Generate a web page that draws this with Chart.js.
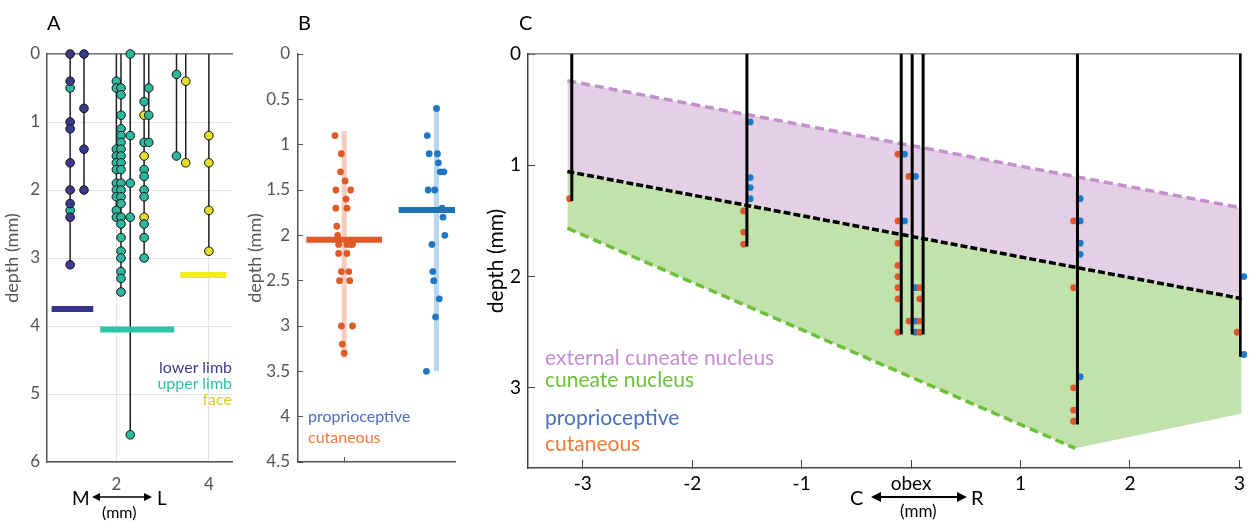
<!DOCTYPE html>
<html>
<head>
<meta charset="utf-8">
<script src="https://cdn.jsdelivr.net/npm/chart.js@4.4.0/dist/chart.umd.min.js"></script>
<style>
  body { margin: 0; width: 1257px; height: 521px; background: #fff; position: relative; overflow: hidden; font-family: Lato, sans-serif; }
  canvas { position: absolute; top: 0; }
  .t { position: absolute; white-space: nowrap; line-height: 1; }
  .r { text-align: right; }
  svg { position: absolute; }
</style>
</head>
<body>
<canvas id="chartA" width="240" height="521" style="left:0px"></canvas>
<canvas id="chartB" width="230" height="521" style="left:240px"></canvas>
<canvas id="chartC" width="779" height="521" style="left:478px"></canvas>

<div class="t" style="left:47px;top:12px;font-size:20px">A</div>
<div class="t" style="left:298px;top:12px;font-size:20px">B</div>
<div class="t" style="left:519px;top:12px;font-size:20px">C</div>

<div class="t r" style="right:1025px;top:359px;font-size:16px;color:#3b3b90">lower limb</div>
<div class="t r" style="right:1025px;top:375px;font-size:16px;color:#2dbfa6">upper limb</div>
<div class="t r" style="right:1025px;top:391px;font-size:16px;color:#d6d020">face</div>

<div class="t" style="left:72px;top:488px;font-size:19px">M</div>
<svg style="left:92px;top:491px" width="60" height="12"><path d="M4 6H56" stroke="#000" stroke-width="1.5"/><path d="M0 6L8 2V10Z M60 6L52 2V10Z" fill="#000"/></svg>
<div class="t" style="left:157px;top:488px;font-size:19px">L</div>
<div class="t" style="left:102px;top:504px;font-size:16px">(mm)</div>

<div class="t" style="left:308px;top:408px;font-size:16px;color:#4a6fbf">proprioceptive</div>
<div class="t" style="left:308px;top:429px;font-size:16px;color:#f07a3c">cutaneous</div>

<div class="t" style="left:545px;top:346px;font-size:21px;color:#c38fcc">external cuneate nucleus</div>
<div class="t" style="left:545px;top:368px;font-size:21px;color:#6cc03c">cuneate nucleus</div>
<div class="t" style="left:545px;top:406px;font-size:21px;color:#4a6fbf">proprioceptive</div>
<div class="t" style="left:545px;top:432px;font-size:21px;color:#f07a3c">cutaneous</div>

<div class="t" style="left:850px;top:487px;font-size:20px">C</div>
<svg style="left:871px;top:491px" width="96" height="12"><path d="M4 6H92" stroke="#000" stroke-width="2"/><path d="M0 6L10 1V11Z M96 6L86 1V11Z" fill="#000"/></svg>
<div class="t" style="left:971px;top:487px;font-size:20px">R</div>
<div class="t" style="left:900px;top:502px;font-size:17px">(mm)</div>

<script>
// ---- panel A : recording tracks, medial-lateral position vs depth ----
const trackX = [1.0, 1.3, 2.0, 2.1, 2.3, 2.6, 2.7, 3.3, 3.5, 4.0];
const trackEnd = [3.1, 2.0, 2.4, 3.5, 5.6, 3.0, 1.3, 1.5, 1.6, 2.9];
const lowerLimb = [[1.0, 0], [1.0, 0.4], [1.0, 1.0], [1.0, 1.1], [1.0, 1.6], [1.0, 2.0], [1.0, 2.2], [1.0, 2.4], [1.0, 3.1],
  [1.3, 0], [1.3, 0.8], [1.3, 1.4], [1.3, 2.0]];
const upperLimb = [[1.0, 0.5], [1.0, 2.3],
  [2.0, 0.4], [2.0, 0.5], [2.0, 1.4], [2.0, 1.5], [2.0, 1.6], [2.0, 1.7], [2.0, 1.9], [2.0, 2.0], [2.0, 2.1], [2.0, 2.3], [2.0, 2.4],
  [2.1, 0.5], [2.1, 0.6], [2.1, 0.9], [2.1, 1.1], [2.1, 1.2], [2.1, 1.3], [2.1, 1.4], [2.1, 1.5], [2.1, 1.6], [2.1, 1.7], [2.1, 1.9],
  [2.1, 2.0], [2.1, 2.1], [2.1, 2.2], [2.1, 2.4], [2.1, 2.5], [2.1, 2.7], [2.1, 2.9], [2.1, 3.0], [2.1, 3.2], [2.1, 3.3], [2.1, 3.5],
  [2.3, 0], [2.3, 1.2], [2.3, 1.9], [2.3, 2.4], [2.3, 5.6],
  [2.6, 0.7], [2.6, 1.3], [2.6, 1.7], [2.6, 1.8], [2.6, 2.0], [2.6, 2.1], [2.6, 2.5], [2.6, 2.7], [2.6, 3.0],
  [2.7, 0.5], [2.7, 0.9], [2.7, 1.3],
  [3.3, 0.3], [3.3, 1.5]];
const face = [[2.6, 0.9], [2.6, 1.5], [2.6, 2.4], [3.5, 0.4], [3.5, 1.6], [4.0, 1.2], [4.0, 1.6], [4.0, 2.3], [4.0, 2.9]];
const regionBarY = [3.75, 4.05, 3.25];
const regionBarFrom = [0.6, 1.65, 3.38];
const regionBarTo = [1.5, 3.25, 4.38];
const regionColors = ['#34348a', '#2ec4a8', '#f0ea28'];
const aXTicks = [2, 4];
const aYTicks = [0, 1, 2, 3, 4, 5, 6];

// ---- panel B : depth by modality ----
const cutaneousB = [[0.90, 0.9], [0.97, 1.1], [0.96, 1.3], [1.01, 1.4], [0.91, 1.5], [1.07, 1.5], [1.02, 1.6], [0.91, 1.7], [1.03, 1.7],
  [0.92, 1.9], [0.93, 2.0], [0.94, 2.1], [1.03, 2.1], [1.07, 2.1], [1.09, 2.1], [0.94, 2.2], [1.03, 2.2], [0.97, 2.4], [1.05, 2.4],
  [0.95, 2.5], [1.06, 2.5], [0.97, 3.0], [1.09, 3.0], [0.98, 3.2], [1.0, 3.3]];
const proprioB = [[2.0, 0.6], [1.9, 0.9], [1.92, 1.1], [2.01, 1.1], [2.02, 1.2], [2.04, 1.3], [2.08, 1.3], [1.91, 1.5], [1.98, 1.5],
  [2.06, 1.7], [2.07, 1.8], [2.09, 2.0], [1.95, 2.1], [1.96, 2.4], [1.97, 2.5], [2.03, 2.7], [1.99, 2.9], [1.89, 3.5]];
const cutRange = [0.85, 3.35];
const propRange = [0.6, 3.5];
const cutMean = 2.05;
const propMean = 1.72;
const bYTicks = [0, 0.5, 1, 1.5, 2, 2.5, 3, 3.5, 4, 4.5];

// ---- panel C : rostro-caudal position vs depth ----
const ecnTop = [[-3.14, 0.24], [3.03, 1.385]];
const cnTop = [[-3.14, 1.056], [3.03, 2.2]];
const cnBottom = [[-3.14, 1.565], [1.5, 3.543], [3.03, 3.23]];
const probeX = [-3.1, -1.5, -0.09, 0.01, 0.11, 1.52, 3.01];
const probeEnd = [1.32, 1.73, 2.52, 2.52, 2.52, 3.33, 2.72];
const cutaneousC = [[-3.12, 1.3], [-1.53, 1.41], [-1.53, 1.6], [-1.53, 1.71],
  [-0.12, 0.9], [-0.02, 1.1], [-0.12, 1.5], [-0.12, 1.7], [-0.12, 1.9], [-0.12, 2.0], [-0.12, 2.1], [0.08, 2.1],
  [-0.12, 2.2], [0.08, 2.2], [-0.02, 2.4], [0.08, 2.4], [-0.12, 2.5], [0.08, 2.5],
  [1.485, 1.5], [1.485, 2.1], [1.485, 3.0], [1.485, 3.2], [1.485, 3.3], [2.98, 2.5]];
const proprioC = [[-1.47, 0.61], [-1.47, 1.11], [-1.47, 1.2], [-1.47, 1.3],
  [-0.06, 0.9], [0.04, 1.1], [-0.06, 1.5], [0.04, 2.1], [0.04, 2.4], [0.04, 2.5],
  [1.545, 1.3], [1.545, 1.5], [1.545, 1.7], [1.545, 1.8], [1.545, 2.9], [3.04, 2.0], [3.04, 2.7]];
const cXTicks = [-3, -2, -1, 0, 1, 2, 3];
const cXLabels = ['-3', '-2', '-1', 'obex', '1', '2', '3'];
const cYTicks = [0, 1, 2, 3];

Chart.defaults.font.family = 'Lato, sans-serif';

//--HELPERS----------------------------------------------------------------
function toXY(points) {
  return points.map(p => ({ x: p[0], y: p[1] }));
}

function seg(points, color, width, order, dash) {
  return {
    data: toXY(points), showLine: true, borderColor: color, borderWidth: width,
    pointRadius: 0, borderDash: dash || [], order: order, fill: false, borderCapStyle: 'butt'
  };
}

function dots(points, color, radius, edge, order) {
  return {
    data: toXY(points), showLine: false, backgroundColor: color, pointRadius: radius,
    borderColor: edge || color, pointBorderWidth: edge ? 1 : 0, order: order, clip: false
  };
}

function fixTicks(list) {
  return s => { s.ticks = list.map(v => ({ value: v })); };
}

const plainNumber = v => String(v);
const noPlugins = { legend: { display: false }, tooltip: { enabled: false } };

//--PANEL A----------------------------------------------------------------
function drawA() {
  let datasets = [];
  for (let i = 0; i < trackX.length; i++) {
    datasets.push(seg([[trackX[i], 0], [trackX[i], trackEnd[i]]], '#222', 1.5, 5));
  }
  for (let i = 0; i < regionBarY.length; i++) {
    datasets.push(seg([[regionBarFrom[i], regionBarY[i]], [regionBarTo[i], regionBarY[i]]], regionColors[i], 6, 4));
  }
  datasets.push(dots(lowerLimb, '#3a3a8e', 4.3, '#111', 1));
  datasets.push(dots(upperLimb, '#2bb89e', 4.3, '#111', 1));
  datasets.push(dots(face, '#e2e02a', 4.3, '#111', 1));

  new Chart(document.getElementById('chartA'), {
    type: 'scatter',
    data: { datasets: datasets },
    options: {
      responsive: false, animation: false, devicePixelRatio: 1,
      layout: { padding: { top: 54, right: 8, left: 0, bottom: 0 } },
      plugins: noPlugins,
      scales: {
        x: {
          min: 0.5, max: 4.5, afterBuildTicks: fixTicks(aXTicks), afterFit: s => { s.height = 59; },
          grid: { color: '#e4e4e4', drawTicks: false }, border: { color: '#555', width: 1.5 },
          ticks: { color: '#555', font: { size: 17 }, padding: 12, callback: plainNumber }
        },
        x2: {
          type: 'linear', position: 'top', min: 0.5, max: 4.5, afterFit: s => { s.height = 0; },
          grid: { display: false }, ticks: { display: false }, border: { color: '#777', width: 1.5 }
        },
        y: {
          min: 0, max: 6, reverse: true, afterBuildTicks: fixTicks(aYTicks), afterFit: s => { s.width = 47; },
          grid: { color: '#e4e4e4', drawTicks: false }, border: { color: '#555', width: 1.5 },
          ticks: { color: '#555', font: { size: 17 }, padding: 7, callback: plainNumber },
          title: { display: true, text: 'depth (mm)', color: '#555', font: { size: 18 }, padding: { top: 1, bottom: 0 } }
        }
      }
    }
  });
}

//--PANEL B----------------------------------------------------------------
function drawB() {
  let datasets = [
    seg([[1, cutRange[0]], [1, cutRange[1]]], '#f6cdbd', 5, 5),
    seg([[2, propRange[0]], [2, propRange[1]]], '#b6d7ef', 5, 5),
    dots(cutaneousB, '#e05a28', 3.4, null, 3),
    dots(proprioB, '#1f77c2', 3.4, null, 3),
    seg([[0.59, cutMean], [1.41, cutMean]], '#e05a28', 6, 1),
    seg([[1.59, propMean], [2.41, propMean]], '#1f72b8', 6, 1)
  ];

  new Chart(document.getElementById('chartB'), {
    type: 'scatter',
    data: { datasets: datasets },
    options: {
      responsive: false, animation: false, devicePixelRatio: 1,
      layout: { padding: { top: 54, right: 15, left: 0, bottom: 0 } },
      plugins: noPlugins,
      scales: {
        x: {
          min: 0.5, max: 2.2, afterBuildTicks: fixTicks([1]), afterFit: s => { s.height = 59; },
          grid: { drawOnChartArea: false, tickLength: -5, color: '#555' }, border: { color: '#555', width: 1.5 },
          ticks: { display: false }
        },
        y: {
          min: 0, max: 4.5, reverse: true, afterBuildTicks: fixTicks(bYTicks), afterFit: s => { s.width = 58; },
          grid: { drawOnChartArea: false, tickLength: -5, color: '#555' }, border: { color: '#555', width: 1.5 },
          ticks: { color: '#555', font: { size: 17 }, padding: 13, callback: plainNumber },
          title: { display: true, text: 'depth (mm)', color: '#555', font: { size: 18 }, padding: { top: 4, bottom: 0 } }
        }
      }
    }
  });
}

//--PANEL C----------------------------------------------------------------
function drawC() {
  let datasets = [
    Object.assign(seg(ecnTop, '#c38fcc', 3.5, 10, [9, 5]), { fill: 1, backgroundColor: '#e3d0e5' }),
    seg(cnTop, '#000', 3.5, 1, [7, 3]),
    Object.assign(seg(cnBottom, 'rgba(0,0,0,0)', 0, 9), { fill: 1, backgroundColor: '#c1e2ab' }),
    seg([cnBottom[0], cnBottom[1]], '#6cc03c', 3.5, 8, [9, 5])
  ];
  for (let i = 0; i < probeX.length; i++) {
    datasets.push(seg([[probeX[i], 0], [probeX[i], probeEnd[i]]], '#000', 3, 4));
  }
  datasets.push(dots(cutaneousC, '#e0582a', 3.4, null, 5));
  datasets.push(dots(proprioC, '#1a7cc8', 3.4, null, 5));

  new Chart(document.getElementById('chartC'), {
    type: 'scatter',
    data: { datasets: datasets },
    options: {
      responsive: false, animation: false, devicePixelRatio: 1,
      layout: { padding: { top: 54, right: 9, left: 0, bottom: 0 } },
      plugins: noPlugins,
      scales: {
        x: {
          min: -3.5, max: 3.02, afterBuildTicks: fixTicks(cXTicks), afterFit: s => { s.height = 53; },
          grid: { drawOnChartArea: false, tickLength: -8, color: '#444' }, border: { color: '#444', width: 1.5 },
          ticks: { color: '#000', font: { size: 19 }, padding: 12, callback: v => cXLabels[cXTicks.indexOf(v)] }
        },
        x2: {
          type: 'linear', position: 'top', min: -3.5, max: 3.02, afterFit: s => { s.height = 0; },
          grid: { display: false }, ticks: { display: false }, border: { color: '#888', width: 1.5 }
        },
        y: {
          min: 0, max: 3.72, reverse: true, afterBuildTicks: fixTicks(cYTicks), afterFit: s => { s.width = 50; },
          grid: { drawOnChartArea: false, tickLength: -7, color: '#444' }, border: { color: '#444', width: 1.5 },
          ticks: { color: '#000', font: { size: 19 }, padding: 14, callback: plainNumber },
          title: { display: true, text: 'depth (mm)', color: '#000', font: { size: 21 }, padding: { top: 6, bottom: 0 } }
        }
      }
    }
  });
}

drawA();
drawB();
drawC();
</script>
</body>
</html>
